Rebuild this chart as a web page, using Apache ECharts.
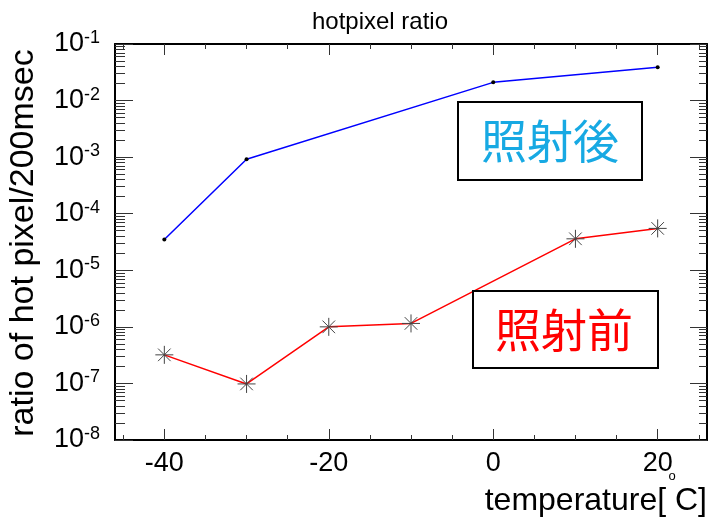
<!DOCTYPE html>
<html>
<head>
<meta charset="utf-8">
<title>hotpixel ratio</title>
<script src="https://cdn.jsdelivr.net/npm/echarts@6/dist/echarts.min.js"></script>
<style>
  html, body { margin: 0; padding: 0; background: #fff; }
  #main { width: 712px; height: 519px; }
</style>
</head>
<body>
<div id="main"></div>
<script>
// 照射後 (after irradiation)
var afterTemp  = [-40, -30, 0, 20];
var afterRatio = [3.5e-5, 9.2e-4, 2.1e-2, 3.9e-2];
// 照射前 (before irradiation)
var beforeTemp  = [-40, -30, -20, -10, 10, 20];
var beforeRatio = [3.2e-7, 9.8e-8, 1.0e-6, 1.15e-6, 3.6e-5, 5.5e-5];

// axis ticks
var xMajor = [-40, -20, 0, 20];
var xMinor = [-45, -35, -30, -25, -15, -10, -5, 5, 10, 15, 25];
var yDecades = [-8, -7, -6, -5, -4, -3, -2, -1];   // exponents of 10

var yMinor = [];
for (var n = -8; n < -1; n++) {
    for (var k = 2; k <= 9; k++) yMinor.push(n + Math.log10(k));
}

function toLog(xs, ys) {
    return xs.map(function (x, i) { return [x, Math.log10(ys[i])]; });
}

var FONT = 'Liberation Sans';
var lineSt = { color: '#000', width: 2 };
var tickSt = { color: '#333', width: 1 };

function xAx(pos, ticks, len, showLine, labels) {
    return {
        type: 'value', min: -46, max: 26, position: pos,
        axisLine: { show: showLine, onZero: false, lineStyle: lineSt },
        axisTick: { show: true, inside: true, length: len, customValues: ticks, lineStyle: tickSt },
        axisLabel: labels ? {
            customValues: ticks, fontSize: 27, color: '#000', fontFamily: FONT, margin: 10
        } : { show: false },
        splitLine: { show: false }
    };
}

function yAx(pos, ticks, len, showLine, labels) {
    var tick = { show: true, inside: true, length: len, lineStyle: tickSt };
    if (ticks) tick.customValues = ticks;
    return {
        type: 'value', min: -8, max: -1, interval: 1, position: pos,
        axisLine: { show: showLine, onZero: false, lineStyle: lineSt },
        axisTick: tick,
        axisLabel: labels ? {
            customValues: yDecades,
            margin: 15,
            formatter: function (v) { return '{b|10}{s|' + v + '}'; },
            rich: {
                b: { fontSize: 27, fontFamily: FONT, color: '#000', lineHeight: 30 },
                s: { fontSize: 18, fontFamily: FONT, color: '#000', lineHeight: 18, verticalAlign: 'top' }
            }
        } : { show: false },
        splitLine: { show: false }
    };
}

var chart = echarts.init(document.getElementById('main'));
chart.setOption({
    animation: false,
    title: {
        text: 'hotpixel ratio',
        left: 375, top: 5, textAlign: 'center',
        textStyle: { fontSize: 24, fontWeight: 'normal', fontFamily: FONT, color: '#000' }
    },
    grid: { left: 115, top: 44, right: 5, bottom: 79 },
    xAxis: [
        xAx('bottom', xMajor, 11, true, true),
        xAx('bottom', xMinor, 5, false, false),
        xAx('top', xMajor, 11, true, false),
        xAx('top', xMinor, 5, false, false)
    ],
    yAxis: [
        yAx('left', null, 18, true, true),
        yAx('left', yMinor, 10, false, false),
        yAx('right', null, 17, true, false),
        yAx('right', yMinor, 8, false, false)
    ],
    series: [
        {
            name: '照射後', type: 'line',
            data: toLog(afterTemp, afterRatio),
            lineStyle: { color: '#0000ff', width: 1.5 },
            symbol: 'circle', symbolSize: 4,
            itemStyle: { color: '#000' }
        },
        {
            name: '照射前', type: 'line',
            data: toLog(beforeTemp, beforeRatio),
            lineStyle: { color: '#ff0000', width: 1.5 },
            symbol: 'path://M0,-10L0,10M-10,0L10,0M-7,-7L7,7M-7,7L7,-7',
            symbolSize: 18,
            itemStyle: { color: 'rgba(0,0,0,0)', borderColor: '#444', borderWidth: 1 }
        }
    ],
    graphic: [
        {
            type: 'text', x: 24, y: 243, rotation: Math.PI / 2,
            style: { text: 'ratio of hot pixel/200msec', fontSize: 34, fontFamily: FONT, fill: '#000',
                     align: 'center', verticalAlign: 'middle' }
        },
        {
            type: 'text', x: 707, y: 501,
            style: { text: 'temperature[ C]', fontSize: 32, fontFamily: FONT, fill: '#000',
                     align: 'right', verticalAlign: 'middle' }
        },
        {
            type: 'text', x: 672, y: 476,
            style: { text: 'o', fontSize: 13, fontFamily: FONT, fill: '#000',
                     align: 'center', verticalAlign: 'middle' }
        },
        {
            type: 'rect', shape: { x: 458, y: 102, width: 184, height: 78 },
            style: { fill: '#fff', stroke: '#000', lineWidth: 2 }, z: 10
        },
        {
            type: 'text', x: 550, y: 141, z: 11,
            style: { text: '照射後', fontSize: 46, fontFamily: 'Noto Sans CJK JP', fill: '#17a9e3',
                     align: 'center', verticalAlign: 'middle' }
        },
        {
            type: 'rect', shape: { x: 473, y: 291, width: 185, height: 77 },
            style: { fill: '#fff', stroke: '#000', lineWidth: 2 }, z: 10
        },
        {
            type: 'text', x: 564, y: 330, z: 11,
            style: { text: '照射前', fontSize: 46, fontFamily: 'Noto Sans CJK JP', fill: '#ff0000',
                     align: 'center', verticalAlign: 'middle' }
        }
    ]
});
</script>
</body>
</html>
